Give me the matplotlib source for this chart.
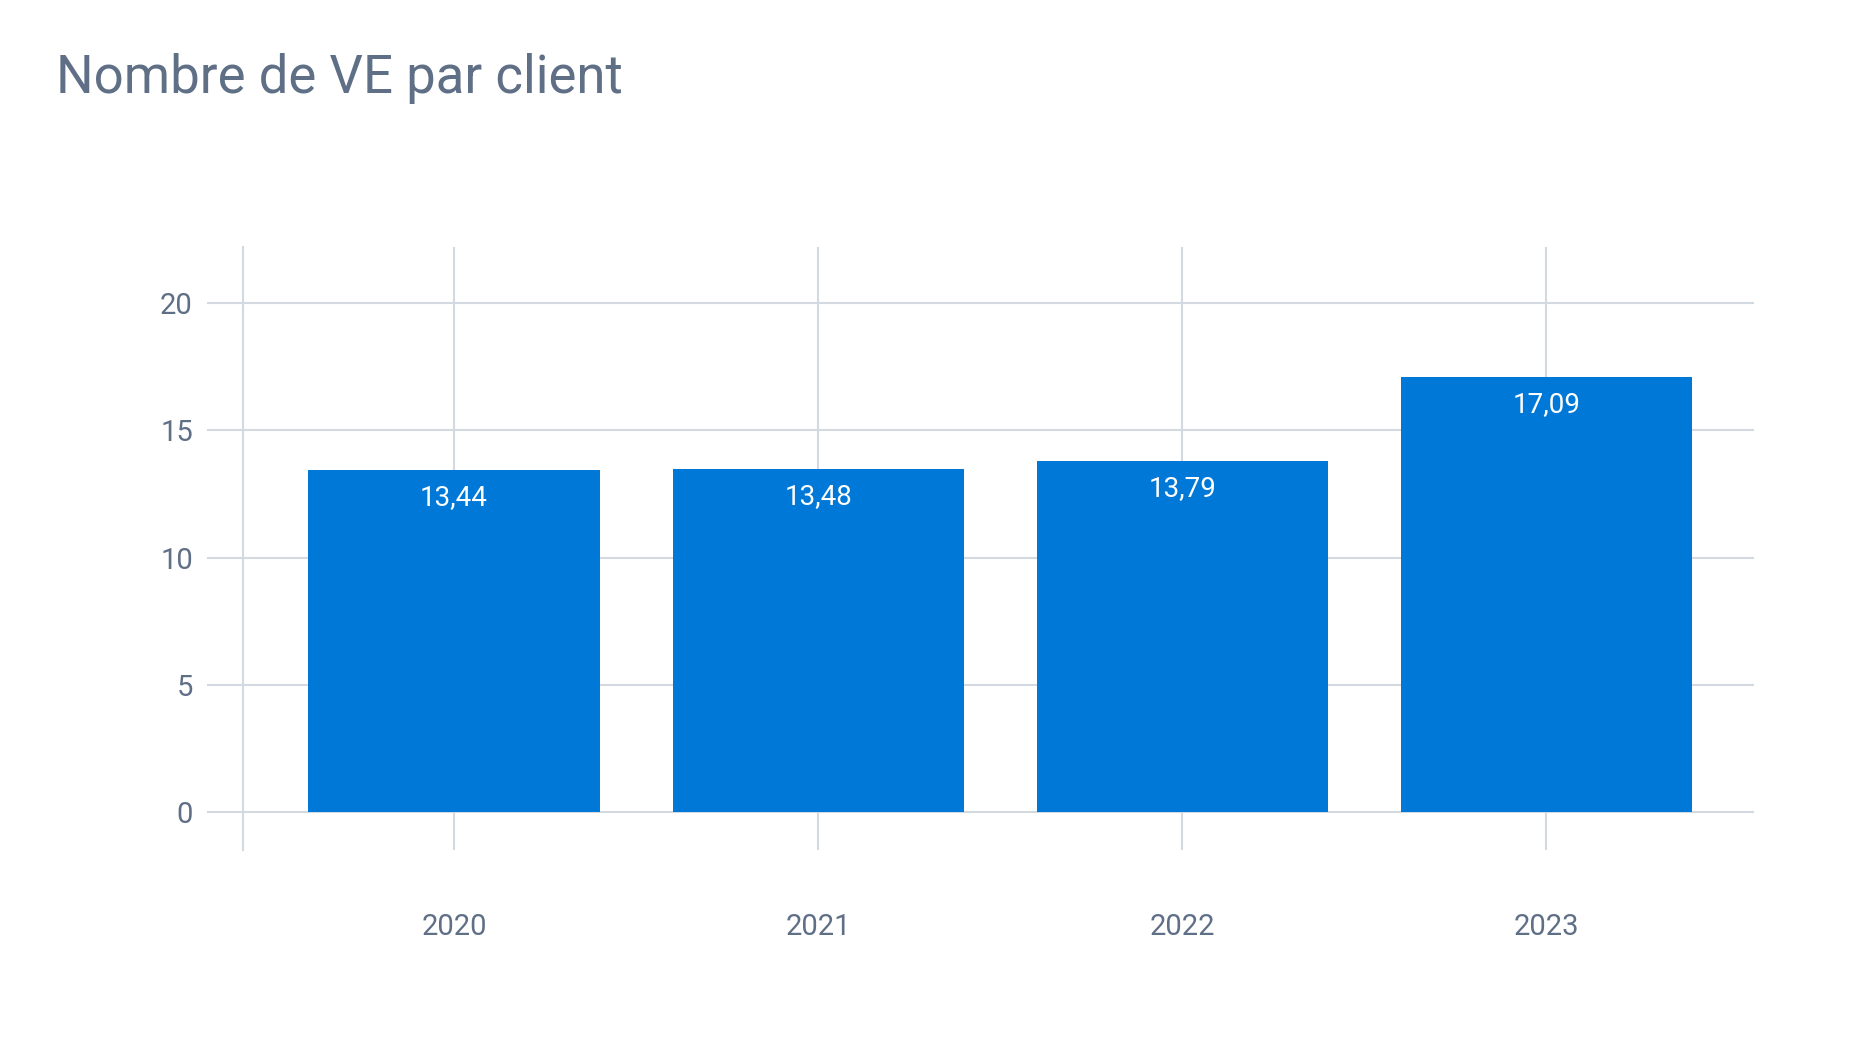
import matplotlib
matplotlib.use("Agg")
import matplotlib.pyplot as plt

years = ["2020", "2021", "2022", "2023"]
values = [13.44, 13.48, 13.79, 17.09]
labels = ["13,44", "13,48", "13,79", "17,09"]
yticks = [0, 5, 10, 15, 20]

GRID = "#d3d9e0"
TEXT = "#5f6f86"
BAR = "#0078d7"

plt.rcParams["font.family"] = "Roboto"
fig = plt.figure(figsize=(18.54, 10.43), dpi=100)
ax = fig.add_axes([0.131, 0.185, 0.815, 0.578])

x = range(len(years))
ax.bar(x, values, width=0.8, color=BAR, zorder=3)
for xi, v, lab in zip(x, values, labels):
    ax.text(xi, v - 0.55, lab, ha="center", va="top", color="white",
            fontsize=20, zorder=4)

ax.set_xlim(-0.58, 3.57)
ax.set_ylim(-1.5, 22.2)
ax.set_yticks(yticks)
ax.set_xticks(list(x))
ax.set_xticklabels(years)
ax.grid(True, color=GRID, lw=1.5, zorder=0)
for s in ["top", "right", "bottom"]:
    ax.spines[s].set_visible(False)
ax.spines["left"].set_color(GRID)
ax.spines["left"].set_linewidth(1.5)
ax.tick_params(axis="y", length=26, width=1.5, color=GRID, labelcolor=TEXT,
               labelsize=21, pad=10)
ax.tick_params(axis="x", length=0, labelcolor=TEXT, labelsize=21, pad=45)

fig.text(0.03, 0.925, "Nombre de VE par client", fontsize=38, color=TEXT,
         ha="left", va="center")

fig.savefig("out.png", dpi=100)
